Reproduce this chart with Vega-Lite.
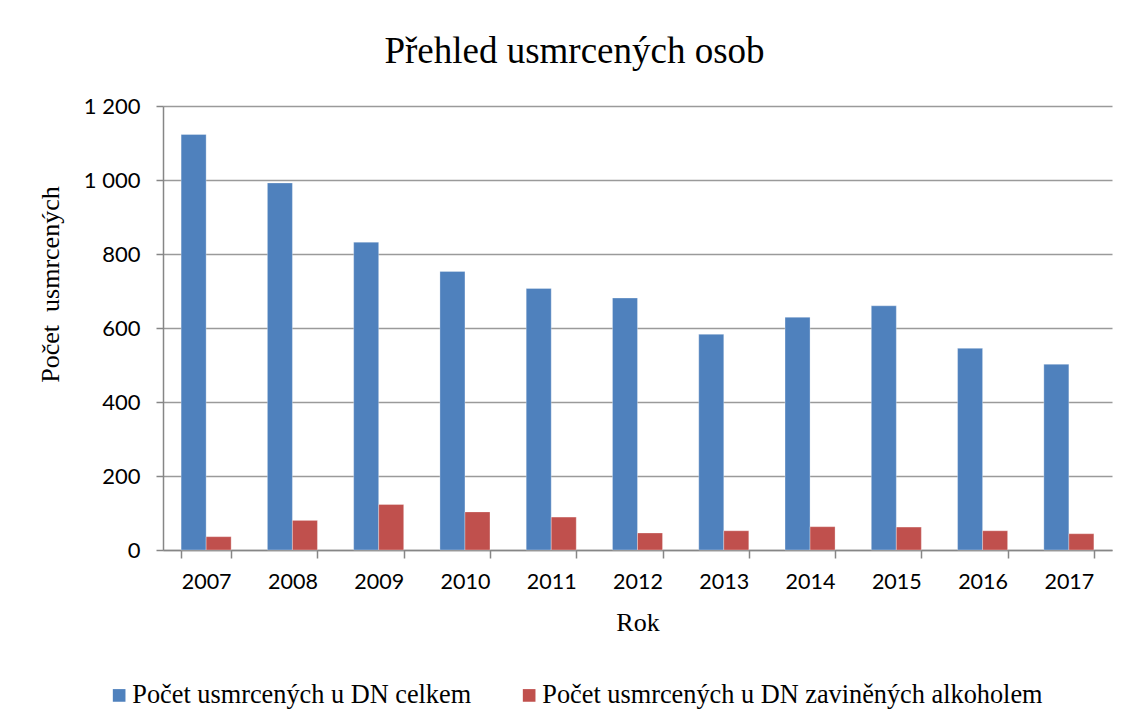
{
  "$schema": "https://vega.github.io/schema/vega-lite/v6.json",
  "autosize": "none",
  "width": 949,
  "height": 444,
  "padding": {"left": 163, "top": 106, "right": 18, "bottom": 176},
  "background": "white",
  "title": {
    "text": "Přehled usmrcených osob",
    "font": "Liberation Serif",
    "fontSize": 37,
    "fontWeight": "normal",
    "color": "black",
    "anchor": "middle",
    "dx": -63,
    "offset": 24
  },
  "data": {
    "values": [
      {"rok": "2007", "serie": "Počet usmrcených u DN celkem", "pocet": 1123},
      {"rok": "2008", "serie": "Počet usmrcených u DN celkem", "pocet": 992},
      {"rok": "2009", "serie": "Počet usmrcených u DN celkem", "pocet": 832},
      {"rok": "2010", "serie": "Počet usmrcených u DN celkem", "pocet": 753},
      {"rok": "2011", "serie": "Počet usmrcených u DN celkem", "pocet": 707},
      {"rok": "2012", "serie": "Počet usmrcených u DN celkem", "pocet": 681},
      {"rok": "2013", "serie": "Počet usmrcených u DN celkem", "pocet": 583},
      {"rok": "2014", "serie": "Počet usmrcených u DN celkem", "pocet": 629},
      {"rok": "2015", "serie": "Počet usmrcených u DN celkem", "pocet": 660},
      {"rok": "2016", "serie": "Počet usmrcených u DN celkem", "pocet": 545},
      {"rok": "2017", "serie": "Počet usmrcených u DN celkem", "pocet": 502},
      {"rok": "2007", "serie": "Počet usmrcených u DN zaviněných alkoholem", "pocet": 36},
      {"rok": "2008", "serie": "Počet usmrcených u DN zaviněných alkoholem", "pocet": 80},
      {"rok": "2009", "serie": "Počet usmrcených u DN zaviněných alkoholem", "pocet": 123},
      {"rok": "2010", "serie": "Počet usmrcených u DN zaviněných alkoholem", "pocet": 103},
      {"rok": "2011", "serie": "Počet usmrcených u DN zaviněných alkoholem", "pocet": 89},
      {"rok": "2012", "serie": "Počet usmrcených u DN zaviněných alkoholem", "pocet": 46},
      {"rok": "2013", "serie": "Počet usmrcených u DN zaviněných alkoholem", "pocet": 52},
      {"rok": "2014", "serie": "Počet usmrcených u DN zaviněných alkoholem", "pocet": 63},
      {"rok": "2015", "serie": "Počet usmrcených u DN zaviněných alkoholem", "pocet": 62},
      {"rok": "2016", "serie": "Počet usmrcených u DN zaviněných alkoholem", "pocet": 52},
      {"rok": "2017", "serie": "Počet usmrcených u DN zaviněných alkoholem", "pocet": 44}
    ]
  },
  "mark": {"type": "bar", "stroke": "white", "strokeOpacity": 0.5, "strokeWidth": 0.6},
  "encoding": {
    "x": {
      "field": "rok",
      "type": "nominal",
      "scale": {"paddingInner": 0.42, "paddingOuter": 0.21},
      "axis": {
        "title": "Rok",
        "titleFont": "Liberation Serif",
        "titleFontSize": 26,
        "titleFontWeight": "normal",
        "titleColor": "black",
        "titlePadding": 17,
        "labelFont": "Lato",
        "labelFontSize": 21.5,
        "labelColor": "black",
        "labelAngle": 0,
        "labelPadding": 13,
        "tickBand": "extent",
        "tickSize": 8,
        "tickColor": "#868686",
        "tickWidth": 1.5,
        "domainColor": "#868686",
        "domainWidth": 1.5
      }
    },
    "xOffset": {"field": "serie", "type": "nominal", "scale": {"paddingInner": 0, "paddingOuter": 0}},
    "y": {
      "field": "pocet",
      "type": "quantitative",
      "scale": {"domain": [0, 1200], "nice": false},
      "axis": {
        "title": "Počet\u00a0\u00a0usmrcených",
        "titleFont": "Liberation Serif",
        "titleFontSize": 26,
        "titleFontWeight": "normal",
        "titleColor": "black",
        "titleX": -100,
        "titleY": 178,
        "values": [0, 200, 400, 600, 800, 1000, 1200],
        "labelExpr": "replace(format(datum.value, ','), ',', ' ')",
        "labelFont": "Lato",
        "labelFontSize": 22,
        "labelColor": "black",
        "labelPadding": 16,
        "tickSize": 7,
        "tickColor": "#868686",
        "tickWidth": 1.5,
        "domainColor": "#868686",
        "domainWidth": 1.5,
        "grid": true,
        "gridColor": "#9a9a9a",
        "gridWidth": 1.5
      }
    },
    "color": {
      "field": "serie",
      "type": "nominal",
      "scale": {
        "domain": ["Počet usmrcených u DN celkem", "Počet usmrcených u DN zaviněných alkoholem"],
        "range": ["#4F81BD", "#C0504D"]
      },
      "legend": {
        "title": null,
        "orient": "none",
        "direction": "horizontal",
        "legendX": -57,
        "legendY": 576,
        "symbolType": "square",
        "symbolSize": 160,
        "symbolStrokeWidth": 0,
        "labelFont": "Liberation Serif",
        "labelFontSize": 26.3,
        "labelColor": "black",
        "labelLimit": 700,
        "labelOffset": 0,
        "columnPadding": 44
      }
    }
  },
  "config": {
    "view": {"stroke": null}
  }
}
